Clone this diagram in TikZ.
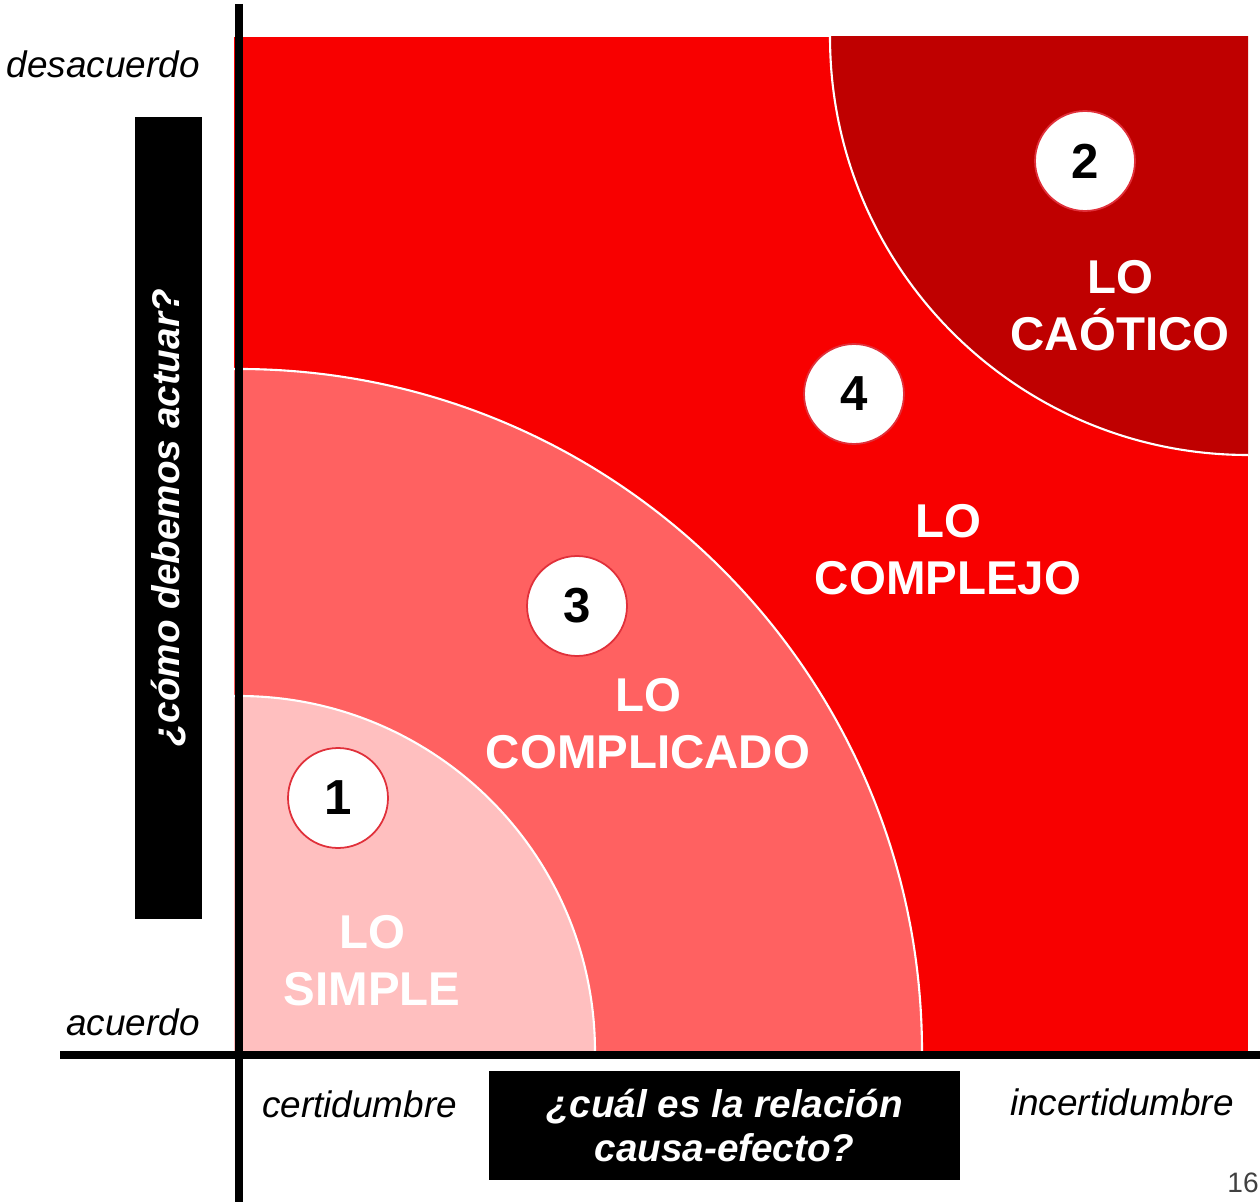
\documentclass[tikz,border=0pt]{standalone}
\usepackage{fontspec}
\setmainfont{Liberation Sans}
\definecolor{rojo}{HTML}{F80000}
\definecolor{caotico}{HTML}{BF0000}
\definecolor{complicado}{HTML}{FF6161}
\definecolor{simple}{HTML}{FFBFBF}
\definecolor{borde}{HTML}{E0303A}
\definecolor{pagina}{HTML}{404040}
\begin{document}
\begin{tikzpicture}[x=0.02cm,y=-0.02cm,
    zona/.style={text=white,align=center,font=\fontsize{27}{32.5}\selectfont\bfseries},
    numero/.style={circle,fill=white,draw=borde,line width=1pt,minimum size=2cm,inner sep=0pt,font=\fontsize{28}{30}\selectfont\bfseries},
    extremo/.style={font=\fontsize{21}{24}\selectfont\itshape},
    pregunta/.style={fill=black,text=white,align=center,inner sep=0pt,font=\fontsize{22}{25.6}\selectfont\bfseries\itshape}]
        \useasboundingbox (0,0) rectangle (1260,1202);
        % cuadrantes
        \begin{scope}
            \clip (234,37) rectangle (1248,1052);
            \fill[rojo] (234,37) rectangle (1248,1052);
            \foreach \cx/\cy/\r/\c in {239/1052/683/complicado,239/1052/356/simple,1248/37/418/caotico}{
                \filldraw[fill=\c,draw=white,line width=1.2pt] (\cx,\cy) circle (\r);
            }
        \end{scope}
        % ejes
        \draw[line width=0.16cm] (239,4) -- (239,1202);
        \draw[line width=0.16cm] (60,1055) -- (1260,1055);
        % zonas
        \foreach \x/\y/\n/\l in {372/961/lsimple/{LO\\SIMPLE},648/724/lcomplicado/{LO\\COMPLICADO},948/550/lcomplejo/{LO\\COMPLEJO},1120/306/lcaotico/{LO\\CAÓTICO}}{
            \node[zona] (\n) at (\x,\y) {\l};
        }
        \foreach \x/\y/\n/\l in {338/798/uno/1,1085/161/dos/2,577/606/tres/3,854/394/cuatro/4}{
            \node[numero] (\n) at (\x,\y) {\l};
        }
        % etiquetas de los ejes
        \node[extremo,anchor=base east] (desacuerdo) at (206,78) {desacuerdo};
        \node[extremo,anchor=base east] (acuerdo) at (206,1035) {acuerdo};
        \node[extremo,anchor=base west] (certidumbre) at (256,1117) {certidumbre};
        \node[extremo,anchor=base west] (incertidumbre) at (1004,1115) {incertidumbre};
        \node[pregunta,rotate=90,minimum width=16.04cm,minimum height=1.34cm] (actuar) at (168.5,518) {¿cómo debemos actuar?};
        \node[pregunta,minimum width=9.42cm,minimum height=2.18cm] (causa) at (724.5,1125.5) {¿cuál es la relación\\causa-efecto?};
        \node[text=pagina,font=\fontsize{16}{18}\selectfont,anchor=base east,inner sep=0pt] (pag) at (1259,1192) {16};
    \end{tikzpicture}
\end{document}
